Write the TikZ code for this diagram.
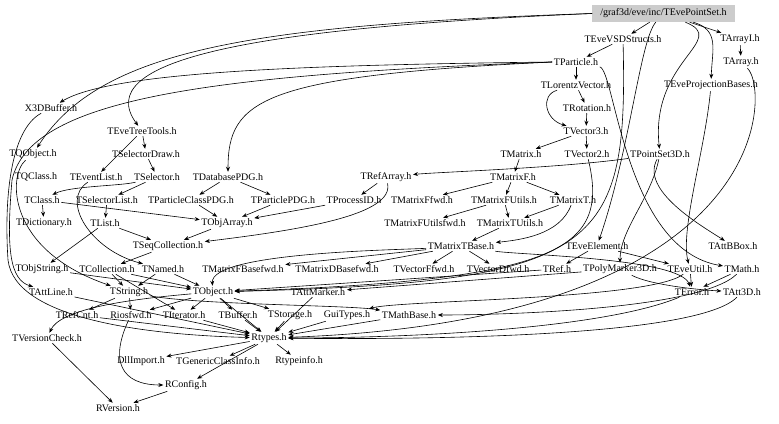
\documentclass[tikz,border=0pt]{standalone}
\usepackage{fontspec}
\setmainfont{Liberation Serif}
\usetikzlibrary{arrows.meta}
\tikzset{
  hdr/.style={font=\fontsize{10}{12}\selectfont, inner sep=1.5pt},
  inc/.style={->, line width=0.6pt},
}
\begin{document}
\begin{tikzpicture}[x=1pt, y=-1pt, >={Stealth[length=5pt,width=4pt]}]
  \useasboundingbox (0,0) rectangle (779,423);
  % the file itself
  \node[hdr, fill=gray!40, inner xsep=8pt, minimum height=17pt] (box) at (663.5,13.5) {/graf3d/eve/inc/TEvePointSet.h};
  % included headers, row by row
  \foreach \n/\x/\y/\lbl in {
      vsd/623/39/TEveVSDStructs.h, arrI/740/39/TArrayI.h,
      part/576/62/TParticle.h, arr/741/62/TArray.h,
      lor/576/85/TLorentzVector.h, proj/711/85/TEveProjectionBases.h,
      x3d/51/108/X3DBuffer.h, rot/587/108/TRotation.h,
      tree/142/131/TEveTreeTools.h, v3/586/131/TVector3.h,
      qobj/33/154/TQObject.h, seldraw/146/154/TSelectorDraw.h, mat/521/154/TMatrix.h,
      v2/587/154/TVector2.h, ps3d/660/154/TPointSet3D.h,
      qcls/36/177/TQClass.h, evl/96/177/TEventList.h, sel/157/177/TSelector.h,
      dbpdg/228/177/TDatabasePDG.h, refarr/386/177/TRefArray.h, matF/513/177/TMatrixF.h,
      cls/42/200/TClass.h, sellist/107/200/TSelectorList.h, pcpdg/191/200/TParticleClassPDG.h,
      ppdg/283/200/TParticlePDG.h, pid/354/200/TProcessID.h, mFfwd/422/200/TMatrixFfwd.h,
      mFU/504/200/TMatrixFUtils.h, mT/573/200/TMatrixT.h,
      dict/44/223/TDictionary.h, list/105/223/TList.h, objarr/227/223/TObjArray.h,
      mFUfwd/425/223/TMatrixFUtilsfwd.h, mTU/510/223/TMatrixTUtils.h,
      seq/168/246/TSeqCollection.h, mTB/461/246/TMatrixTBase.h,
      elem/597/246/TEveElement.h, bbox/733/246/TAttBBox.h,
      objstr/42/269/TObjString.h, coll/107/269/TCollection.h, named/163/269/TNamed.h,
      mFBf/243/269/TMatrixFBasefwd.h, mDBf/337/269/TMatrixDBasefwd.h,
      vFf/424/269/TVectorFfwd.h, vDf/498/269/TVectorDfwd.h, ref/557/269/TRef.h,
      pm3d/620/269/TPolyMarker3D.h, util/690/269/TEveUtil.h, math/742/269/TMath.h,
      attline/51/292/TAttLine.h, str/129/292/TString.h, obj/213/292/TObject.h,
      attmk/318/292/TAttMarker.h, err/692/292/TError.h, att3d/742/292/TAtt3D.h,
      refcnt/77/315/TRefCnt.h, rios/131/315/Riosfwd.h, iter/184/315/TIterator.h,
      buf/238/315/TBuffer.h, stor/290/315/TStorage.h, gui/347/315/GuiTypes.h,
      mbase/409/315/TMathBase.h,
      vchk/47/338/TVersionCheck.h, rtypes/269/338/Rtypes.h,
      dll/141/361/DllImport.h, gci/218/361/TGenericClassInfo.h, rti/299/361/Rtypeinfo.h,
      rconf/186/385/RConfig.h, rver/118/408/RVersion.h}
    \node[hdr] (\n) at (\x,\y) {\lbl};

  % short includes
  \foreach \a/\b in {box/vsd, box/arrI, vsd/part, arrI/arr, part/lor, lor/rot, rot/v3,
      v3/mat, v3/v2, mat/matF, matF/mFfwd, matF/mFU, matF/mT, mFU/mFUfwd, mFU/mTU,
      mT/mTU, mTU/mTB, mTB/mFBf, mTB/mDBf, mTB/vFf, mTB/vDf,
      tree/seldraw, tree/evl, seldraw/sel, sel/sellist, sellist/list,
      dbpdg/pcpdg, dbpdg/ppdg, pcpdg/objarr, ppdg/objarr, pid/objarr, refarr/pid,
      objarr/seq, list/seq, list/objstr, seq/coll, cls/dict, cls/objarr,
      coll/obj, coll/iter, coll/str, objstr/obj, named/obj, named/str,
      elem/ref, elem/util, ref/obj, pm3d/attmk, util/err, math/err,
      str/refcnt, str/rios, obj/rios, obj/buf, obj/stor, obj/iter,
      attline/rtypes, attmk/rtypes, refcnt/rtypes, iter/rtypes, buf/rtypes,
      stor/rtypes, gui/rtypes, mbase/rtypes,
      rtypes/dll, rtypes/gci, rtypes/rti, rtypes/rconf, rconf/rver, vchk/rver}
    \draw[inc] (\a) -- (\b);

  % long includes
  \draw[inc] (box.west) .. controls (250,25) and (100,50) .. (qobj);
  \draw[inc] (box.west) .. controls (250,28) and (90,60) .. (tree);
  \draw[inc] (box) .. controls (730,40) and (650,60) .. (ps3d);
  \draw[inc] (box) .. controls (720,30) and (712,50) .. (proj);
  \draw[inc] (box) .. controls (640,40) and (630,150) .. (elem);
  \draw[inc] (part.west) .. controls (300,65) and (110,72) .. (x3d);
  \draw[inc] (part.west) .. controls (260,76) and (228,100) .. (dbpdg);
  \draw[inc] (part.west) .. controls (200,75) and (30,100) .. (12,180) .. controls (6,250) and (10,280) .. (attline);
  \draw[inc] (part) .. controls (615,70) and (625,250) .. (math);
  \draw[inc] (lor) .. controls (540,95) and (545,120) .. (v3);
  \draw[inc] (vsd) .. controls (628,250) and (600,282) .. (obj);
  \draw[inc] (v2) .. controls (610,250) and (560,280) .. (obj);
  \draw[inc] (mTB) .. controls (400,250) and (210,252) .. (obj);
  \draw[inc] (mTB) .. controls (520,255) and (680,258) .. (err);
  \draw[inc] (mT) .. controls (560,235) and (520,240) .. (mTB);
  \draw[inc] (ps3d) .. controls (650,200) and (620,230) .. (pm3d);
  \draw[inc] (ps3d) .. controls (640,190) and (700,225) .. (bbox);
  \draw[inc] (ps3d) .. controls (560,168) and (440,172) .. (refarr);
  \draw[inc] (proj) .. controls (705,150) and (680,230) .. (util);
  \draw[inc] (refarr) .. controls (395,215) and (300,230) .. (seq);
  \draw[inc] (evl) .. controls (60,200) and (90,250) .. (named);
  \draw[inc] (sel) .. controls (120,186) and (70,186) .. (cls);
  \draw[inc] (qobj) .. controls (8,175) and (6,250) .. (str);
  \draw[inc] (pm3d) .. controls (650,285) and (700,290) .. (att3d);
  \draw[inc] (arr) .. controls (770,90) and (775,320) .. (rtypes);
  \draw[inc] (x3d) .. controls (10,130) and (4,200) .. (8,260) .. controls (15,320) and (150,335) .. (rtypes);
  \draw[inc] (obj) .. controls (120,300) and (60,310) .. (vchk);
  \draw[inc] (math) .. controls (700,310) and (500,315) .. (mbase);
  \draw[inc] (err) .. controls (600,330) and (400,338) .. (rtypes);
  \draw[inc] (att3d) .. controls (700,335) and (450,340) .. (rtypes);
  \draw[inc] (rios) .. controls (110,360) and (120,385) .. (rconf);
  \draw[inc] (obj) -- (rtypes);
  \draw[inc] (str) .. controls (200,305) and (350,305) .. (mbase);
  \draw[inc] (util) .. controls (650,300) and (400,300) .. (gui);
\end{tikzpicture}
\end{document}
